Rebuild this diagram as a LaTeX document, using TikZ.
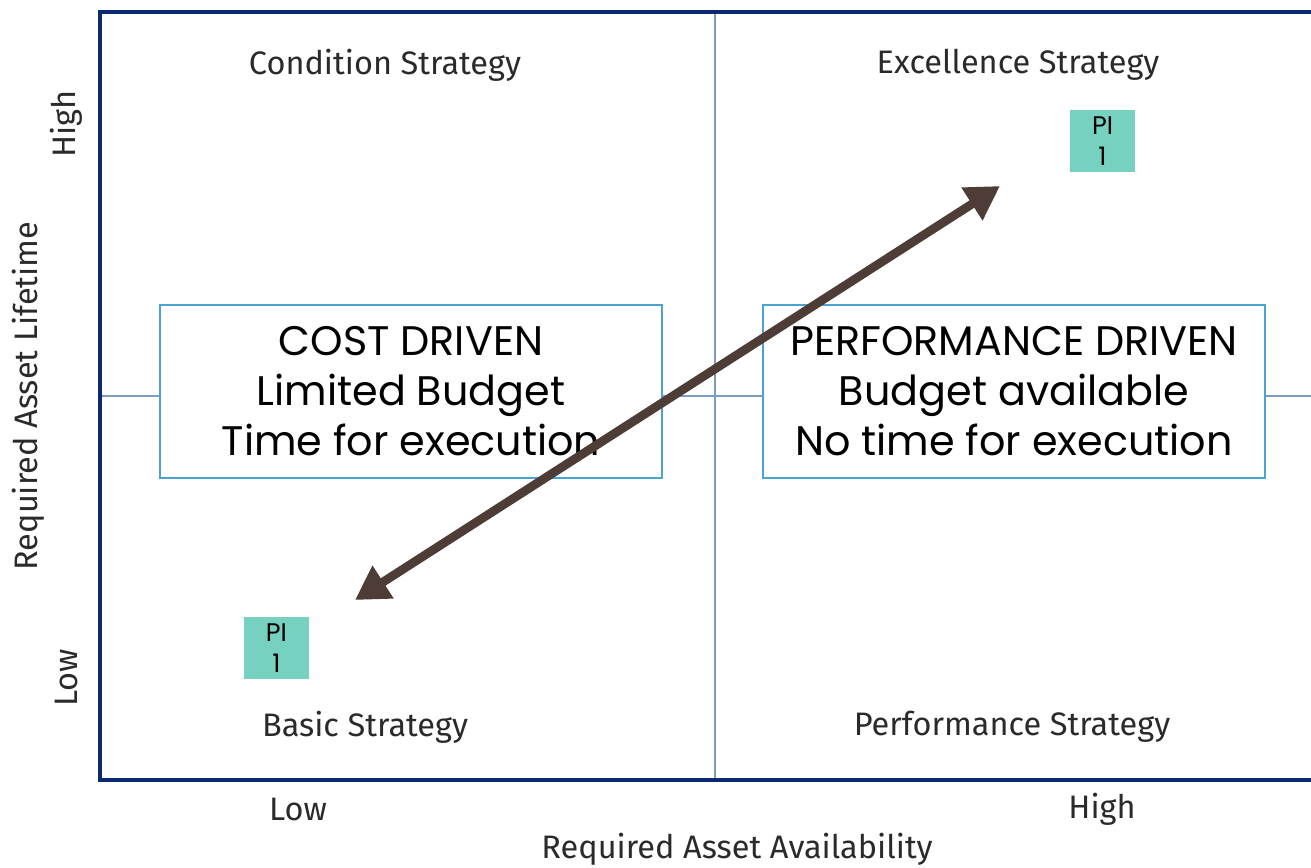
\documentclass[tikz,border=0pt]{standalone}
\usepackage{fontspec}
\setmainfont{Fira Sans}
\newfontfamily\boxfont{Poppins}
\usetikzlibrary{arrows.meta,positioning}

\definecolor{frameblue}{HTML}{0B2A6E}
\definecolor{midblue}{HTML}{7E9CC0}
\definecolor{boxblue}{HTML}{4BA3D3}
\definecolor{piteal}{HTML}{76D1C0}
\definecolor{arrowbrown}{HTML}{4E3D37}
\definecolor{labelgrey}{HTML}{2A2A2A}

\tikzset{
  strategy/.style={text=labelgrey, font=\fontsize{18.5}{22}\selectfont},
  axislabel/.style={text=labelgrey, font=\fontsize{18.5}{22}\selectfont},
  drivebox/.style={draw=boxblue, line width=1.2pt, fill=white, minimum width=502*0.02cm,
    minimum height=173*0.02cm, align=center, font=\boxfont\fontsize{23.5}{28.5}\selectfont},
  pibox/.style={fill=piteal, minimum width=65*0.02cm, minimum height=62*0.02cm, inner sep=0pt,
    align=center, font=\boxfont\fontsize{14.5}{17.5}\selectfont},
  bigarrow/.style={arrowbrown, line width=5pt, {Triangle[length=19pt,width=21pt]}-{Triangle[length=19pt,width=21pt]}}
}

\begin{document}
\begin{tikzpicture}[x=0.02cm,y=-0.02cm]
\useasboundingbox (0,0) rectangle (1311,867);
% Quadrant lines
  \draw[midblue, line width=0.6pt] (715,12) -- (715,780);
  \draw[midblue, line width=0.6pt] (100,396) -- (1311,396);
% Frame
  \draw[frameblue, line width=2.4pt] (1311,12) -- (100,12) -- (100,780) -- (1311,780);
% Strategy names
  \node[strategy] (cond) at (385,65) {Condition Strategy};
  \node[strategy] (excel) at (1018,65) {Excellence Strategy};
  \node[strategy] (basic) at (365,727) {Basic Strategy};
  \node[strategy] (perf) at (1012,727) {Performance Strategy};
% Axes
  \node[axislabel] (xlow) at (298,809) {Low};
  \node[axislabel] (xhigh) at (1102,809) {High};
  \node[axislabel] (xname) at (737,849) {Required Asset Availability};
  \node[axislabel, rotate=90] (ylow) at (66,678) {Low};
  \node[axislabel, rotate=90] (yhigh) at (66,124) {High};
  \node[axislabel, rotate=90] (yname) at (28,396) {Required Asset Lifetime};
% Driver boxes
  \node[drivebox] (cost) at (411,391.5) {COST DRIVEN\\Limited Budget\\Time for execution};
  \node[drivebox] (perfbox) at (1014,391.5) {PERFORMANCE DRIVEN\\Budget available\\No time for execution};
% PI markers
  \node[pibox] (pitop) at (1102.5,141) {PI\\1};
  \node[pibox] (pibot) at (276.5,648) {PI\\1};
% Arrow
  \coordinate (arrlow) at (355,600);
  \coordinate (arrhigh) at (1000,186);
  \draw[bigarrow] (arrlow) -- (arrhigh);
\end{tikzpicture}
\end{document}
